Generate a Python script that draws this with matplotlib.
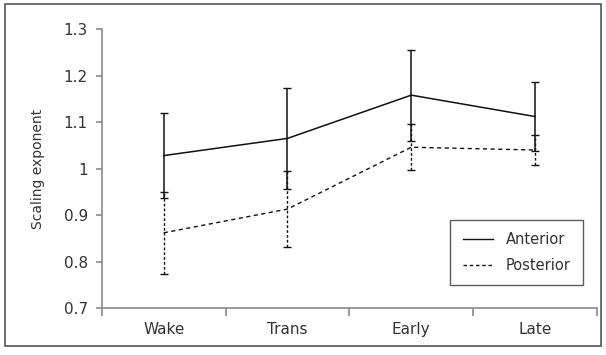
import matplotlib.pyplot as plt
from matplotlib.patches import Rectangle
from matplotlib.lines import Line2D
import numpy as np

plt.rcParams['font.family'] = ['DejaVu Sans']

stages = ['Wake', 'Trans', 'Early', 'Late']
anterior = [1.028, 1.065, 1.158, 1.112]
anterior_err = [0.091, 0.108, 0.098, 0.075]
posterior = [0.862, 0.913, 1.046, 1.040]
posterior_err = [0.088, 0.082, 0.050, 0.033]

x = np.arange(len(stages))
axis_grey = '#8a8a8a'
ink = '#333333'

fig = plt.figure(figsize=(6.06, 3.55), dpi=100)
ax = fig.add_axes([0.168, 0.132, 0.817, 0.786])

ax.errorbar(x, anterior, yerr=anterior_err, color='#111111', lw=1.1,
            elinewidth=1.1, capsize=3, capthick=1.0)
ep = ax.errorbar(x, posterior, yerr=posterior_err, color='#111111', lw=1.0,
                 ls=(0, (3, 2.5)), elinewidth=1.0, capsize=3, capthick=1.0)
for lc in ep[2]:
    lc.set_linestyle((0, (2, 1.5)))

ax.set_xlim(-0.5, 3.5)
ax.set_ylim(0.7, 1.3)
ax.set_yticks([0.7, 0.8, 0.9, 1.0, 1.1, 1.2, 1.3])
ax.set_yticklabels(['0.7', '0.8', '0.9', '1', '1.1', '1.2', '1.3'])
ax.set_xticks(x)
ax.set_xticklabels(stages)
ax.set_xticks(np.arange(-0.5, 4, 1), minor=True)
ax.tick_params(axis='x', which='major', length=0, pad=10, labelsize=11, colors=ink)
ax.tick_params(axis='x', which='minor', length=6, width=1.2, color=axis_grey)
ax.tick_params(axis='y', length=4, width=1.2, color=axis_grey, labelsize=11,
               labelcolor=ink, pad=6)

for s in ['top', 'right']:
    ax.spines[s].set_visible(False)
for s in ['left', 'bottom']:
    ax.spines[s].set_color(axis_grey)
    ax.spines[s].set_linewidth(1.2)

ax.set_ylabel('Scaling exponent', fontsize=10, color=ink)
ax.yaxis.set_label_coords(-0.115, 0.5)

handles = [Line2D([], [], color='#111111', lw=1.0),
           Line2D([], [], color='#111111', lw=1.0, ls=(0, (2.5, 2)))]
leg = ax.legend(handles, ['Anterior', 'Posterior'], loc='lower right',
                bbox_to_anchor=(0.972, 0.082), frameon=True, fancybox=False,
                edgecolor=ink, fontsize=10.5, handlelength=2.1, handletextpad=0.85,
                borderpad=0.85, labelspacing=0.75, borderaxespad=0)
leg.get_frame().set_linewidth(1.0)
for t in leg.get_texts():
    t.set_color(ink)

fig.patches.append(Rectangle((0.009, 0.025), 0.982, 0.963, transform=fig.transFigure,
                             fill=False, edgecolor='#555555', lw=1.2))

fig.savefig('out.png', dpi=100)
